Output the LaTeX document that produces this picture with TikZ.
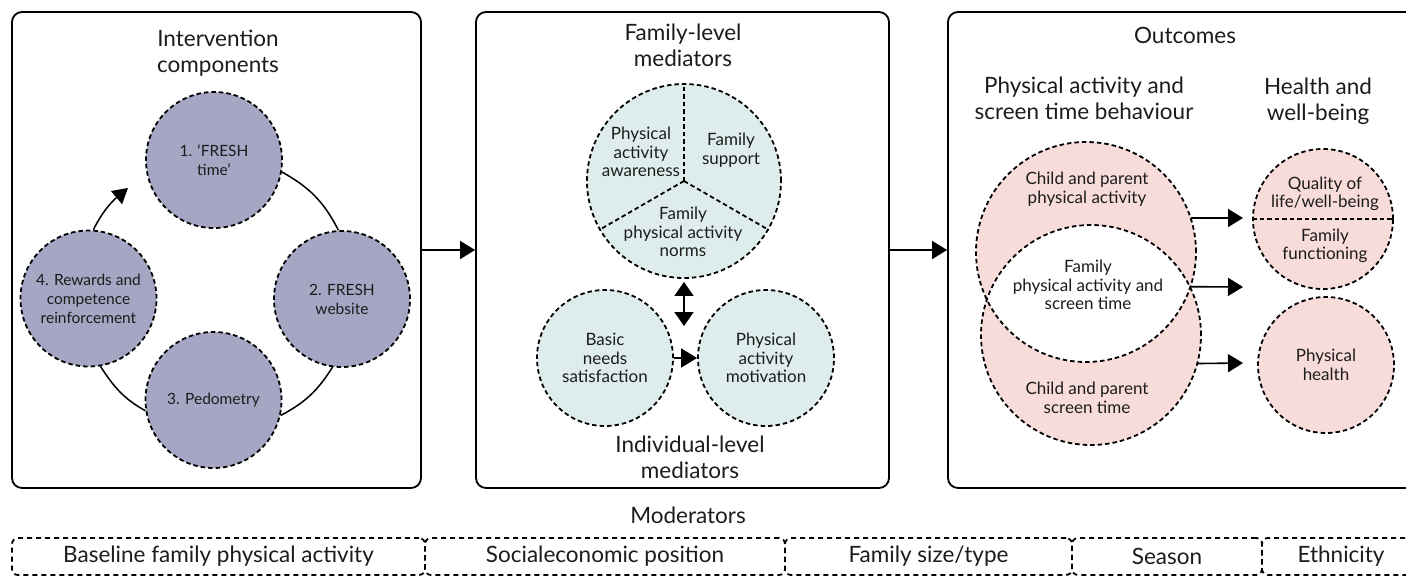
\documentclass[tikz,border=0pt]{standalone}
\usepackage{fontspec}
\setmainfont{Lato}
\usetikzlibrary{arrows.meta}
\definecolor{lav}{RGB}{165,165,196}
\definecolor{medfill}{RGB}{223,236,236}
\definecolor{outfill}{RGB}{247,220,218}
\definecolor{ink}{RGB}{28,28,28}
\begin{document}
\begin{tikzpicture}[x=1pt,y=1pt,
  ttl/.style={font=\fontsize{22.5}{26}\selectfont, align=center, text=ink, inner sep=0pt},
  lbl/.style={font=\fontsize{17}{18.5}\selectfont, align=center, text=ink, inner sep=0pt},
  panel/.style={draw, line width=1.8pt, rounded corners=10pt, inner sep=0pt},
  dsh/.style={line width=1.8pt, dash pattern=on 4.5pt off 3pt},
  bubble/.style={circle, dsh, draw, inner sep=0pt, minimum size=136, lbl},
  compbubble/.style={bubble, fill=lav, font=\fontsize{15.5}{19}\selectfont},
  modbox/.style={draw, line width=1.8pt, dash pattern=on 5pt off 4pt, rounded corners=6pt,
    minimum height=37, inner sep=0pt, font=\fontsize{22.5}{26}\selectfont, text=ink},
  arr/.style={line width=1.6pt, -{Triangle[length=15pt,width=18pt]}},
  ring/.style={line width=1.5pt}
]
\useasboundingbox (0,0) rectangle (1406,-579);
\clip (0,0) rectangle (1406,-579);

% ---------- panels ----------
\node[panel, minimum width=409, minimum height=476] (box1) at (216.5,-250) {};
\node[panel, minimum width=413, minimum height=476] (box2) at (682.5,-250) {};
\node[panel, minimum width=480, minimum height=476] (box3) at (1188,-250) {};
\draw[arr] (box1.east) -- (box2.west);
\draw[arr] (box2.east) -- (box3.west);

% ---------- intervention components ----------
\node[ttl] (t1) at (218,-53) {Intervention\\components};
\node[compbubble] (c1) at (214,-160) {1. ‘FRESH\\time’};
\node[compbubble] (c2) at (342,-299) {2. FRESH\\website};
\node[compbubble] (c3) at (213.5,-400) {3. Pedometry};
\node[compbubble] (c4) at (88.5,-298.5) {4. Rewards and\\competence\\reinforcement};
\coordinate (ringtip) at (128,-188);
\draw[ring] (c1.-10) to[out=-29, in=117] (c2.93);
\draw[ring] (c2.-98) to[out=-122, in=28] (c3.-13);
\draw[ring] (c3.189) to[out=151, in=-57] (c4.-80);
\draw[ring, -{Triangle[length=15pt,width=17pt]}] (c4.86) to[out=63, in=220] (ringtip);

% ---------- mediators ----------
\node[ttl] (t2) at (683,-45.5) {Family-level\\mediators};
\node[circle, dsh, draw, fill=medfill, inner sep=0pt, minimum size=194] (pie) at (684,-181) {};
\draw[dsh] (pie.center) -- (pie.90);
\draw[dsh] (pie.center) -- (pie.210);
\draw[dsh] (pie.center) -- (pie.330);
\node[lbl] (paaw) at (641,-152) {Physical\\activity\\awareness};
\node[lbl] (fsup) at (731,-150) {Family\\support};
\node[lbl] (norms) at (683,-232) {Family\\physical activity\\norms};

\node[bubble, fill=medfill] (basic) at (605,-358) {Basic\\needs\\satisfaction};
\node[bubble, fill=medfill] (pam) at (766,-358) {Physical\\activity\\motivation};
\coordinate (dblend) at (684,-326);
\draw[line width=1.6pt, {Triangle[length=14pt,width=19pt]}-{Triangle[length=14pt,width=19pt]}]
  ([yshift=-3pt]pie.south) -- (dblend);
\draw[line width=1.6pt, -{Triangle[length=16pt,width=19pt]}] (basic.east) -- (pam.west);
\node[ttl] (t3) at (690,-457.5) {Individual-level\\mediators};

% ---------- outcomes ----------
\node[ttl] (t4) at (1185,-35) {Outcomes};
\node[ttl] (t5) at (1084,-98.5) {Physical activity and\\screen time behaviour};
\node[ttl] (t6) at (1318,-101) {Health and\\well-being};

\node[circle, inner sep=0pt, minimum size=220] (topc) at (1086,-252) {};
\node[circle, inner sep=0pt, minimum size=220] (botc) at (1091,-335) {};
\fill[outfill] (topc.center) circle[radius=110] (botc.center) circle[radius=110];
\begin{scope}
  \clip (topc.center) circle[radius=110];
  \fill[white] (botc.center) circle[radius=110];
\end{scope}
\draw[dsh] (topc.center) circle[radius=110];
\draw[dsh] (botc.center) circle[radius=110];
\node[lbl] (cppa) at (1087,-189) {Child and parent\\physical activity};
\node[lbl] (fpast) at (1088,-285) {Family\\physical activity and\\screen time};
\node[lbl] (cpst) at (1087,-398) {Child and parent\\screen time};

\node[circle, dsh, draw, fill=outfill, inner sep=0pt, minimum size=140] (qol) at (1323,-219) {};
\draw[dsh] (qol.west) -- (qol.east);
\node[lbl] (qoltxt) at (1325,-194) {Quality of\\life/well-being};
\node[lbl] (fftxt) at (1325,-246) {Family\\functioning};
\node[bubble, fill=outfill] (ph) at (1326,-365) {Physical\\health};

\coordinate (e1) at (1243,-218);
\coordinate (e2) at (1243,-287);
\coordinate (e3) at (1243,-363);
\draw[arr] (topc.18) -- (e1);
\draw[arr] (botc.26) -- (e2);
\draw[arr] (botc.-15) -- (e3);

% ---------- moderators ----------
\node[ttl] (t7) at (688,-515) {Moderators};
\node[modbox, minimum width=413] (m1) at (218.5,-556.5) {Baseline family physical activity};
\node[modbox, minimum width=360] (m2) at (605,-556.5) {Socialeconomic position};
\node[modbox, minimum width=287] (m3) at (928.5,-556.5) {Family size/type};
\node[modbox, minimum width=190] (m4) at (1167,-556.5) {Season};
\node[modbox, minimum width=158] (m5) at (1341,-556.5) {Ethnicity};
\end{tikzpicture}
\end{document}
